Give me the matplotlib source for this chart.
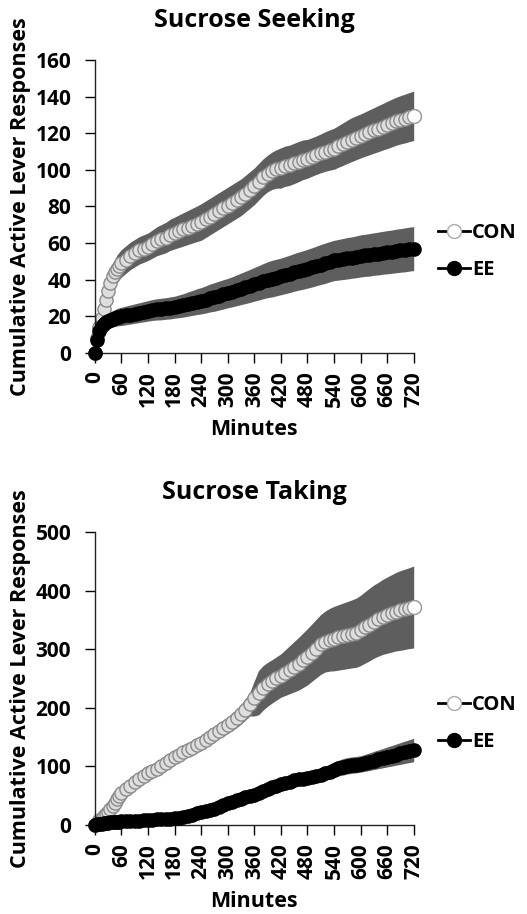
import numpy as np
import matplotlib.pyplot as plt
from matplotlib.lines import Line2D

plt.rcParams['font.family'] = ['Open Sans', 'DejaVu Sans']
plt.rcParams['font.weight'] = 'bold'

# minutes: every 5 min for the first hour, then every 10 min
minutes = np.concatenate([np.arange(0, 60, 5), np.arange(60, 721, 10)])

# Sucrose seeking (mean and SEM)
seek_con = [0, 8, 14, 19, 24, 29, 34, 38, 42, 44, 46, 47.5,
            49, 51, 53, 54.5, 56, 57, 58, 59.5, 61, 62, 63, 64.5, 65.5,
            66.5, 67.5, 68.5, 69.5, 70.5, 71.5, 73, 74.5, 76, 77.5, 79, 80.5, 82, 83.5, 85, 87,
            89, 91, 93.5, 96, 98, 99.5, 100.5, 101, 102, 102.5, 103.5, 104.5, 105.5, 106, 107,
            108, 109, 110, 110.8, 111.5, 112.8, 114, 115.3, 116.5, 117.5, 118.5, 119.5, 120.5,
            121.5, 122.5, 123.5, 124.5, 125.5, 126.5, 127.3, 128, 128.8, 129.5]
seek_con_sem = [0, 1.5, 3, 4, 5, 5.5, 6, 6.5, 7, 7.2, 7.5, 7.5,
                7.5, 7.5, 7.5, 7.5, 7.5, 7.5, 7.5, 7.7, 7.9, 8.1, 8.3, 8.5,
                8.7, 8.9, 9.1, 9.3, 9.5, 9.7, 10, 10, 10, 10, 10, 10, 10, 10, 10, 10, 10, 10, 10,
                10, 10, 10, 10.2, 10.5, 11, 11, 11, 11, 11, 10.8, 10.6, 10.5, 10.5, 10.6, 10.8,
                11, 11.2, 11.4, 11.6, 11.8, 12, 12, 12, 12.1, 12.3, 12.4, 12.6, 12.7, 12.9, 13,
                13.1, 13.2, 13.3, 13.4, 13.5]
seek_ee = [0, 7, 12, 14.5, 16, 17, 17.5, 18, 18.5, 19, 19.5, 19.8,
           20, 20.5, 21, 21.5, 22, 22.5, 23, 23.5, 23.8, 24, 24.3,
           24.6, 25, 25.5, 26, 26.7, 27.3, 28, 28.5, 29.2, 30, 30.6, 31.3, 32, 32.7, 33.4, 34.2,
           35, 35.8, 36.6, 37.5, 38.3, 39.2, 40, 40.6, 41.2, 41.8, 42.5, 43.2, 44, 44.7, 45.3,
           46, 46.7, 47.5, 48.3, 49, 49.8, 50.5, 50.9, 51.3, 51.7, 52.1, 52.5, 53, 53.3, 53.6,
           54, 54.3, 54.7, 55, 55.3, 55.7, 56, 56.3, 56.7, 57]
seek_ee_sem = [0, 2, 3, 3.5, 4, 4.2, 4.3, 4.4, 4.5, 4.6, 4.8, 4.9,
               5, 5.1, 5.2, 5.3, 5.4, 5.5, 5.6, 5.7, 5.8, 5.9, 5.9, 6, 6,
               6.2, 6.4, 6.6, 6.8, 7, 7.2, 7.4, 7.6, 7.8, 7.9, 8, 8, 8.2, 8.4, 8.6, 8.8, 9, 9.2,
               9.4, 9.6, 9.8, 10, 10, 10, 10.1, 10.2, 10.3, 10.4, 10.5, 10.6, 10.7, 10.8, 10.9,
               11, 11, 11, 11.1, 11.2, 11.3, 11.3, 11.4, 11.5, 11.5, 11.6, 11.6, 11.7, 11.7, 11.8,
               11.8, 11.9, 11.9, 12, 12, 12]

# Sucrose taking (mean and SEM)
take_con = [0, 4, 8, 11, 15, 18, 22, 27, 32, 38, 44, 49,
            54, 61, 67, 73, 78, 83, 88, 92, 96, 100, 105, 111, 116, 120,
            124, 128, 132, 136, 140, 145, 150, 155, 160, 165, 170, 176, 182, 189, 197, 206, 216,
            226, 234, 240, 245, 250, 255, 260, 265, 270, 275, 281, 287, 294, 301, 308, 313, 316,
            318, 320, 322, 324, 326, 328, 332, 337, 342, 347, 351, 355, 358, 361, 364, 366, 368,
            370, 372]
take_con_sem = [0, 2, 3, 3.2, 3.5, 3.8, 4, 4.2, 4.5, 4.8, 5, 5,
                5, 5.3, 5.5, 5.8, 6, 6.3, 6.5, 6.8, 7, 7.3, 7.6, 7.8, 8,
                8.5, 9, 9.5, 10, 10.5, 11, 11.5, 12, 12.5, 13, 13.5, 14, 15, 16, 17, 18, 20, 30,
                38, 38, 37.5, 37, 37, 37, 39, 41, 43, 45, 46.5, 48, 49, 50, 51, 52, 53.5, 55,
                55.8, 56.5, 57.3, 58, 59, 60, 61, 62, 62.5, 63, 64, 65, 66, 67, 68, 68.5, 69, 70]
take_ee = [0, 1, 2, 2.5, 3, 3.5, 4, 4.5, 5, 5.2, 5.5, 5.8,
           6, 6.5, 7, 7, 7.5, 8, 8.5, 9, 9.5, 10, 10.5, 11, 11.5, 12, 13,
           15, 17, 20, 22, 24, 26, 28, 31, 34, 37, 40, 43, 45, 47, 49, 52, 55, 58, 61, 64, 67,
           70, 72, 74, 76, 78, 79, 80, 82, 84, 86, 88, 91, 94, 97, 99, 101, 102, 103, 104, 106,
           108, 110, 112, 114, 116, 118, 120, 122, 124, 126, 128]
take_ee_sem = [0, 1.5, 2, 2, 2, 2.1, 2.1, 2.2, 2.2, 2.3, 2.3, 2.3,
               2.3, 2.4, 2.5, 2.5, 2.6, 2.6, 2.7, 2.7, 2.8, 2.8, 2.9,
               2.9, 3, 3, 3, 3.2, 3.5, 3.8, 4, 4.2, 4.4, 4.6, 4.8, 5, 5, 5.2, 5.4, 5.6, 5.8, 6,
               6, 6, 6, 6, 6, 6.5, 7, 7.5, 8, 8.5, 9, 9.5, 10, 10.5, 11, 11.5, 12, 12.5, 13, 13.5,
               14, 14, 14, 14, 14, 14.5, 15, 15.5, 16, 16.5, 17, 17.5, 18, 18.5, 19, 19.5, 20]

xticks = np.arange(0, 721, 60)

band_color = '#5e5e5e'
con_face = '#dedede'
con_edge = '#8a8a8a'

fig = plt.figure(figsize=(5.27, 9.14), dpi=100)
ax1 = fig.add_axes([0.180, 0.6138, 0.605, 0.3206])
ax2 = fig.add_axes([0.180, 0.0974, 0.605, 0.3206])

panels = [
    (ax1, 'Sucrose Seeking', seek_con, seek_con_sem, seek_ee, seek_ee_sem, 160, 20),
    (ax2, 'Sucrose Taking', take_con, take_con_sem, take_ee, take_ee_sem, 500, 100),
]

for ax, title, con, con_sem, ee, ee_sem, ymax, ystep in panels:
    con = np.array(con)
    ee = np.array(ee)
    con_sem = np.array(con_sem)
    ee_sem = np.array(ee_sem)

    ax.fill_between(minutes, con - con_sem, con + con_sem, color=band_color, lw=0, zorder=1)
    ax.plot(minutes, con, color='black', lw=1.5, marker='o', ms=9.5,
            mfc=con_face, mec=con_edge, mew=1, zorder=2, clip_on=False)
    ax.plot(minutes[-1], con[-1], marker='o', ms=10, mfc='white', mec='#999999',
            mew=1, zorder=2.5, clip_on=False)
    ax.fill_between(minutes, ee - ee_sem, ee + ee_sem, color=band_color, lw=0, zorder=3)
    ax.plot(minutes, ee, color='black', lw=1.5, marker='o', ms=9.5,
            mfc='black', mec='black', zorder=4, clip_on=False)

    ax.set_xlim(0, 720)
    ax.set_ylim(0, ymax)
    ax.set_xticks(xticks)
    ax.set_xticklabels([str(t) for t in xticks], rotation=90)
    ax.set_yticks(np.arange(0, ymax + 1, ystep))
    ax.tick_params(direction='out', length=7, width=1, labelsize=15)
    ax.tick_params(axis='x', pad=6)
    ax.tick_params(axis='y', pad=10)
    for lab in ax.get_xticklabels() + ax.get_yticklabels():
        lab.set_fontweight('bold')
    for side in ['top', 'right']:
        ax.spines[side].set_visible(False)
    for side in ['left', 'bottom']:
        ax.spines[side].set_linewidth(1)
        ax.spines[side].set_color('#222222')

    ax.set_xlabel('Minutes', fontsize=15.5, fontweight='bold', labelpad=9)
    ax.set_ylabel('Cumulative Active Lever Responses', fontsize=15.5, fontweight='bold',
                  labelpad=3)
    ax.set_title(title, fontsize=18, fontweight='bold', pad=24)

    handles = [
        Line2D([], [], color='black', lw=2, marker='o', ms=10, mfc='white', mec='#aaaaaa'),
        Line2D([], [], color='black', lw=2, marker='o', ms=10, mfc='black', mec='black'),
    ]
    ax.legend(handles, ['CON', 'EE'], loc='center left', bbox_to_anchor=(1.075, 0.345),
              frameon=False, handlelength=1.6, handletextpad=0.1, labelspacing=0.85,
              borderpad=0, borderaxespad=0, prop={'size': 14.5, 'weight': 'bold'})

fig.savefig('out.png', dpi=100)
